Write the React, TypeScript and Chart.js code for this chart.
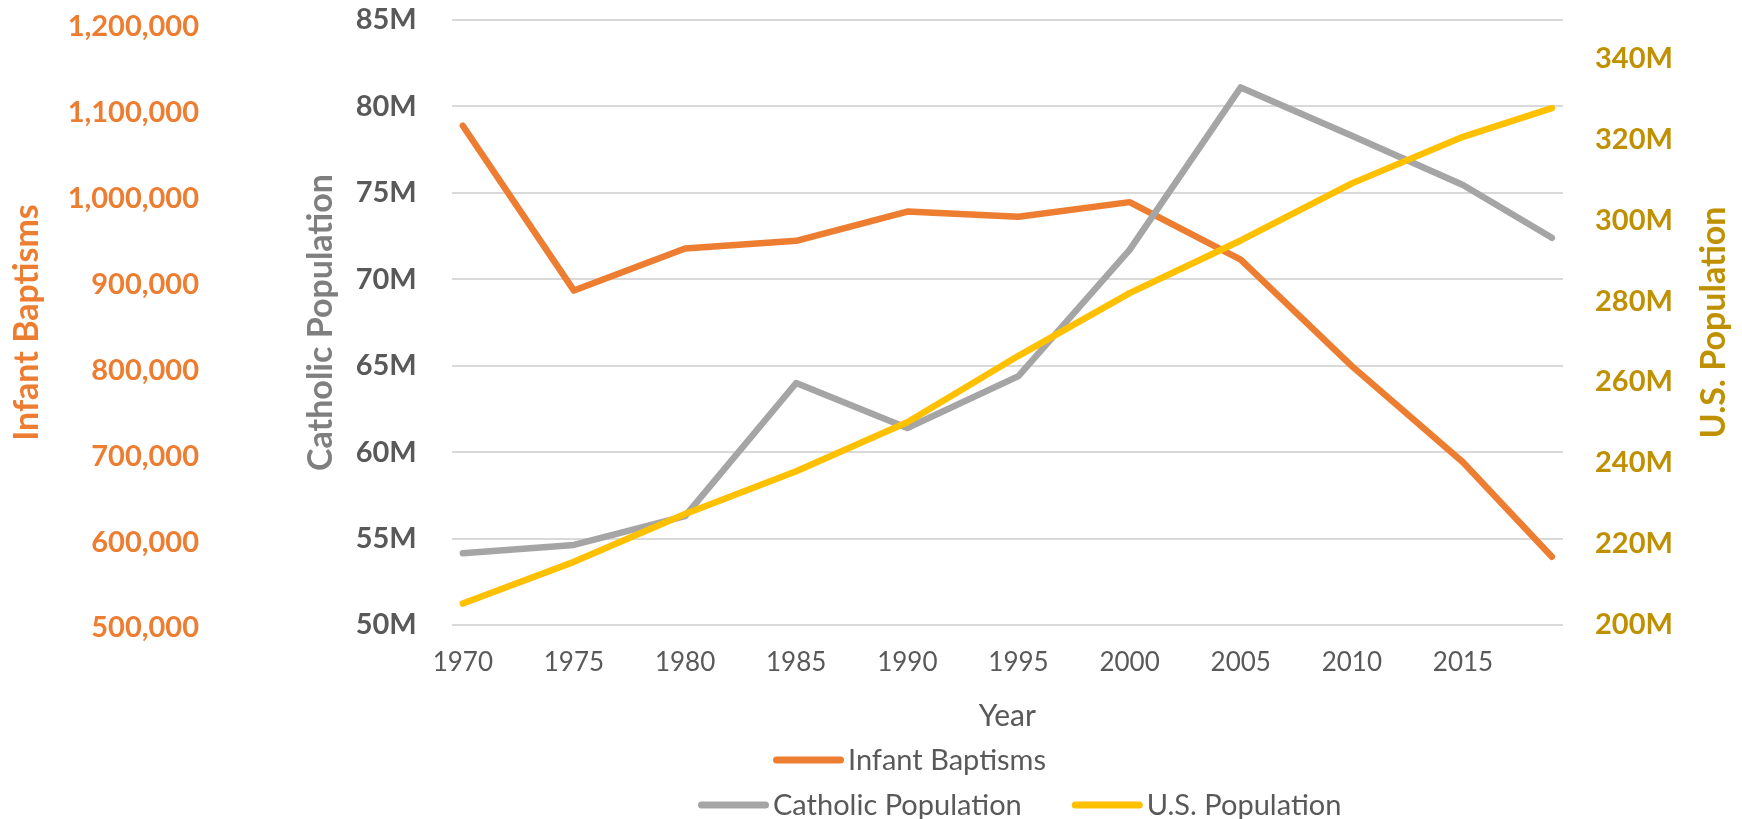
import React, { useEffect, useRef } from "react";
import { Chart, registerables } from "chart.js";

Chart.register(...registerables);

// ---- data ----
const years = [1970, 1975, 1980, 1985, 1990, 1995, 2000, 2005, 2010, 2015, 2019];
const infantBaptisms = [1085000, 893000, 942000, 951000, 985000, 979000, 996000, 929000, 805000, 693000, 583000];
const catholicPopulationM = [54.15, 54.63, 56.3, 64.0, 61.4, 64.4, 71.7, 81.1, 78.3, 75.45, 72.4];
const usPopulationM = [205.3, 215.6, 227.4, 238.0, 250.1, 266.5, 282.0, 295.0, 309.1, 320.6, 327.7];

const seriesNames = ["Infant Baptisms", "Catholic Population", "U.S. Population"];
const xTickYears = [1970, 1975, 1980, 1985, 1990, 1995, 2000, 2005, 2010, 2015];
const baptismTicks = [500000, 600000, 700000, 800000, 900000, 1000000, 1100000, 1200000];
const catholicTicks = [50, 55, 60, 65, 70, 75, 80, 85];
const usTicks = [200, 220, 240, 260, 280, 300, 320, 340];

const ORANGE = "#ED7D31";
const GRAY = "#A5A5A5";
const GOLD = "#FFC000";
const DARK_GOLD = "#BF9000";
const TEXT = "#595959";

const W = 1742;
const H = 819;

const customDraw = {
  id: "customDraw",
  afterDraw(chart: any) {
    const ctx = chart.ctx as CanvasRenderingContext2D;
    const area = chart.chartArea;
    // right axis title (reads bottom-to-top like the left titles)
    ctx.save();
    ctx.translate(1725, (area.top + area.bottom) / 2);
    ctx.rotate(-Math.PI / 2);
    ctx.font = "bold 34px Lato";
    ctx.fillStyle = DARK_GOLD;
    ctx.textAlign = "center";
    ctx.textBaseline = "alphabetic";
    ctx.fillText("U.S. Population", 0, 0);
    ctx.restore();

    // legend: row 1 = first series, row 2 = the other two
    const rows = [[0], [1, 2]];
    const rowStartX = [773, 698];
    const rowY = [760, 805];
    const swatch = 71;
    const gapText = 4;
    const gapItem = 50;
    ctx.save();
    ctx.font = "29px Lato";
    ctx.textBaseline = "middle";
    ctx.textAlign = "left";
    rows.forEach((row, r) => {
      let x = rowStartX[r];
      const y = rowY[r];
      row.forEach((di) => {
        const ds = chart.data.datasets[di];
        ctx.strokeStyle = ds.borderColor;
        ctx.lineWidth = 7;
        ctx.lineCap = "round";
        ctx.beginPath();
        ctx.moveTo(x + 3.5, y);
        ctx.lineTo(x + swatch - 3.5, y);
        ctx.stroke();
        x += swatch + gapText;
        ctx.fillStyle = TEXT;
        ctx.fillText(ds.label, x, y + 1);
        x += ctx.measureText(ds.label).width + gapItem;
      });
    });
    ctx.restore();
  },
};

const fixWidth = (w: number) => (s: any) => {
  s.width = w;
  s.paddingTop = 0;
  s.paddingBottom = 0;
};

export default function App() {
  const canvasRef = useRef<HTMLCanvasElement | null>(null);

  useEffect(() => {
    if (!canvasRef.current) return;
    const mk = (vals: number[]) => years.map((y, i) => ({ x: y, y: vals[i] }));
    const lineStyle = {
      borderWidth: 6.5,
      pointRadius: 0,
      tension: 0,
      borderCapStyle: "round",
      borderJoinStyle: "round",
    };
    const chart = new Chart(canvasRef.current, {
      type: "line",
      data: {
        datasets: [
          {
            label: seriesNames[0],
            data: mk(infantBaptisms),
            yAxisID: "yBap",
            borderColor: ORANGE,
            backgroundColor: ORANGE,
            order: 3,
            ...lineStyle,
          },
          {
            label: seriesNames[1],
            data: mk(catholicPopulationM),
            yAxisID: "yCath",
            borderColor: GRAY,
            backgroundColor: GRAY,
            order: 2,
            ...lineStyle,
          },
          {
            label: seriesNames[2],
            data: mk(usPopulationM),
            yAxisID: "yUS",
            borderColor: GOLD,
            backgroundColor: GOLD,
            order: 1,
            ...lineStyle,
          },
        ],
      },
      options: {
        responsive: false,
        devicePixelRatio: 1,
        animation: false,
        layout: { padding: { top: 20, left: 0, right: 0, bottom: 0 } },
        plugins: {
          legend: { display: false },
          tooltip: { enabled: false },
        },
        scales: {
          x: {
            type: "linear",
            min: 1969.5,
            max: 2019.5,
            afterBuildTicks: (s: any) => {
              s.ticks = xTickYears.map((v) => ({ value: v }));
            },
            ticks: {
              callback: (v: any) => String(v),
              font: { family: "Lato", size: 26 },
              color: TEXT,
              padding: 22,
              maxRotation: 0,
              autoSkip: false,
            },
            grid: { display: false, drawTicks: false },
            border: { display: false },
            title: {
              display: true,
              text: "Year",
              font: { family: "Lato", size: 30 },
              color: TEXT,
              padding: { top: 0, bottom: 85 },
            },
            afterFit: (s: any) => {
              s.height = 194;
              s.paddingLeft = 0;
              s.paddingRight = 0;
            },
          },
          yCath: {
            type: "linear",
            position: "left",
            min: 50,
            max: 85,
            afterBuildTicks: (s: any) => {
              s.ticks = catholicTicks.map((v) => ({ value: v }));
            },
            ticks: {
              callback: (v: any) => `${v}M`,
              font: { family: "Lato", size: 29, weight: "bold" },
              color: TEXT,
              padding: 35,
            },
            grid: { color: "#D9D9D9", lineWidth: 2, drawTicks: false },
            border: { display: false },
            title: {
              display: true,
              text: seriesNames[1],
              font: { family: "Lato", size: 34, weight: "bold" },
              color: "#7F7F7F",
              padding: { top: 71, bottom: 0 },
            },
            afterFit: fixWidth(221.7),
          },
          yBap: {
            type: "linear",
            position: "left",
            min: 503494,
            max: 1208153,
            afterBuildTicks: (s: any) => {
              s.ticks = baptismTicks.map((v) => ({ value: v }));
            },
            ticks: {
              callback: (v: any) => Number(v).toLocaleString("en-US"),
              font: { family: "Lato", size: 29, weight: "bold" },
              color: ORANGE,
              padding: 31,
            },
            grid: { display: false, drawTicks: false },
            border: { display: false },
            title: {
              display: true,
              text: seriesNames[0],
              font: { family: "Lato", size: 34, weight: "bold" },
              color: ORANGE,
              padding: { top: 7, bottom: 0 },
            },
            afterFit: fixWidth(230),
          },
          yUS: {
            type: "linear",
            position: "right",
            min: 200,
            max: 349.46,
            afterBuildTicks: (s: any) => {
              s.ticks = usTicks.map((v) => ({ value: v }));
            },
            ticks: {
              callback: (v: any) => `${v}M`,
              font: { family: "Lato", size: 29, weight: "bold" },
              color: DARK_GOLD,
              padding: 32,
            },
            grid: { display: false, drawTicks: false },
            border: { display: false },
            afterFit: fixWidth(179),
          },
        },
      } as any,
      plugins: [customDraw],
    });
    return () => chart.destroy();
  }, []);

  return (
    <div style={{ position: "absolute", left: 0, top: 0, width: W, height: H, background: "#fff" }}>
      <canvas ref={canvasRef} width={W} height={H} style={{ display: "block" }} />
    </div>
  );
}
